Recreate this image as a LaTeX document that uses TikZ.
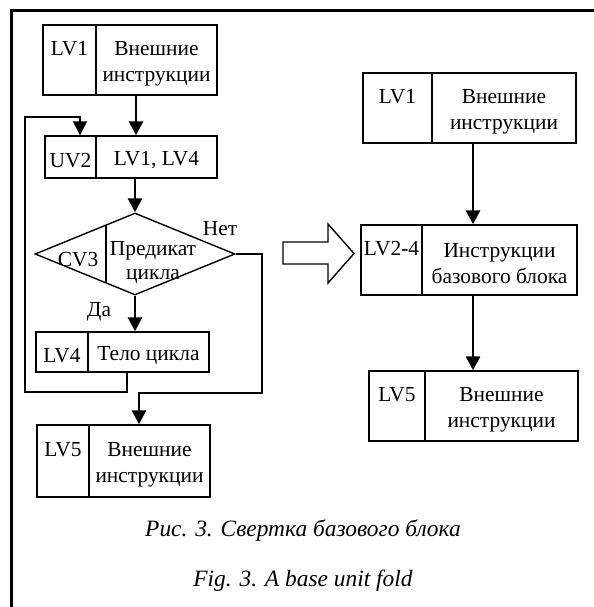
\documentclass[tikz,border=0pt]{standalone}
\usepackage{fontspec}
\setmainfont{Liberation Serif}
\usetikzlibrary{arrows.meta,shapes.geometric}
\newcommand\upr{\rule{0pt}{21bp}}
\newcommand\lowr{\vphantom{инструкции}}
\begin{document}
\begin{tikzpicture}[x=1bp,y=-1bp,
  cell/.style={draw, line width=1.4bp, inner sep=0pt, align=center, font=\fontsize{21.5}{26}\selectfont},
  flow/.style={line width=2.8bp, -{Triangle[length=14bp,width=14bp]}},
  thinflow/.style={line width=1.6bp, -{Triangle[length=14bp,width=14bp]}},
  wire/.style={line width=1.6bp},
  lbl/.style={inner sep=0pt, font=\fontsize{21.5}{24}\selectfont},
  captext/.style={inner sep=0pt, font=\fontsize{23.5}{26}\selectfont\itshape}]
\useasboundingbox (0,0) rectangle (594,607);
\draw[line width=3bp] (11,607) -- (11,11) -- (594,11);

% left column
\node[cell, minimum width=53bp, minimum height=70bp] (a1l) at (69.5,60) {\upr LV1\\ \lowr};
\node[cell, minimum width=121bp, minimum height=70bp] (a1r) at (156.5,60) {\upr Внешние\\инструкции};
\node[cell, minimum width=51bp, minimum height=42bp] (a2l) at (70.5,157) {\upr UV2};
\node[cell, minimum width=121bp, minimum height=42bp] (a2r) at (156.5,157) {\upr LV1, LV4};
\node[draw, line width=1.4bp, diamond, inner sep=0pt, minimum width=200bp, minimum height=82bp] (d) at (135,254) {};
\draw[line width=1.4bp] (106,225) -- (106,283);
\node[lbl] (cv3) at (78,260) {CV3};
\node[lbl, align=center] (pred) at (153,263) {Предикат\\цикла};
\node[lbl] (net) at (220,229) {Нет};
\node[lbl] (da) at (99,312) {Да};
\node[cell, minimum width=52bp, minimum height=40bp] (a4l) at (62,352) {\upr LV4};
\node[cell, minimum width=121bp, minimum height=40bp] (a4r) at (148.5,352) {\upr Тело цикла};
\node[cell, minimum width=52bp, minimum height=72bp] (a5l) at (63,461) {\upr LV5\\ \lowr};
\node[cell, minimum width=121bp, minimum height=72bp] (a5r) at (149.5,461) {\upr Внешние\\инструкции};

% right column
\node[cell, minimum width=69bp, minimum height=70bp] (b1l) at (397.5,108) {\upr LV1\\ \lowr};
\node[cell, minimum width=144bp, minimum height=70bp] (b1r) at (504,108) {\upr Внешние\\инструкции};
\node[cell, minimum width=61bp, minimum height=70bp] (b2l) at (391.5,260) {\upr LV2-4\\ \lowr};
\node[cell, minimum width=155bp, minimum height=70bp] (b2r) at (499.5,260) {\upr Инструкции\\базового блока};
\node[cell, minimum width=56bp, minimum height=70bp] (b3l) at (397,406) {\upr LV5\\ \lowr};
\node[cell, minimum width=153bp, minimum height=70bp] (b3r) at (501.5,406) {\upr Внешние\\инструкции};

% connectors
\coordinate (cx) at (136,0);
\draw[flow] (a1r.south -| cx) -- (a2r.north -| cx);
\draw[flow] (a2r.south -| d.north) -- (d.north);
\draw[flow] (d.south) -- (a4r.north -| d.south);
\coordinate (lb) at (127,392);
\coordinate (loopL) at (25,392);
\coordinate (loopT) at (80,117);
\draw[thinflow] (a4r.south -| lb) -- (lb) -- (loopL) -- (loopL |- loopT) -- (loopT) -- (a2l.north -| loopT);
\coordinate (nr) at (262,393);
\coordinate (nl) at (139,393);
\draw[wire] (d.east) -| (nr) -- (nl);
\draw[flow] ([yshift=0.8bp]nl) -- (a5r.north -| nl);
\coordinate (rx) at (473,0);
\draw[flow] (b1r.south -| rx) -- (b2r.north -| rx);
\draw[flow] (b2r.south -| rx) -- (b3r.north -| rx);

% hollow arrow
\draw[line width=1.4bp, line join=miter] (283,242) -- (328,242) -- (328,224) -- (354,253.5) -- (328,283) -- (328,264) -- (283,264) -- cycle;

% captions
\node[captext, anchor=base] (c1) at (303,536) {Рис. 3. Свертка базового блока};
\node[captext, anchor=base] (c2) at (303,586) {Fig. 3. A base unit fold};
\end{tikzpicture}
\end{document}
